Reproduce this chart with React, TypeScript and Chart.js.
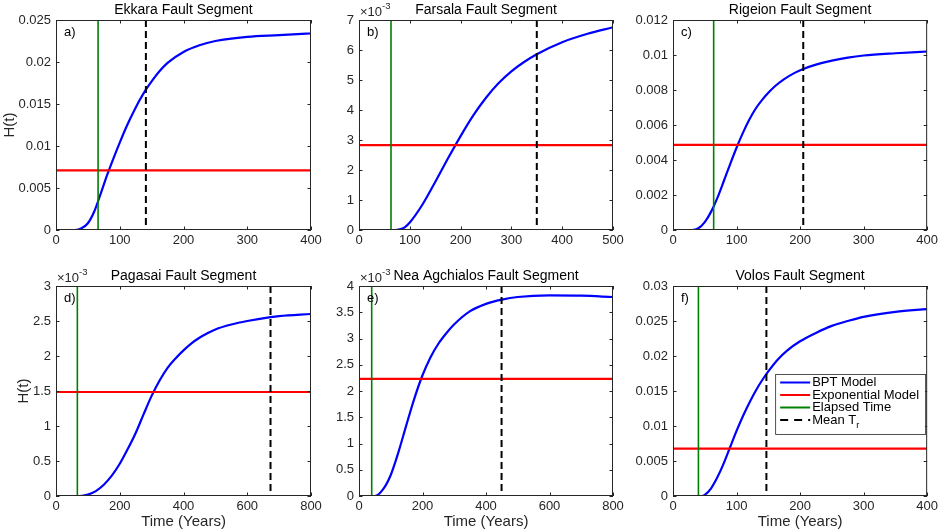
import { useEffect, useRef } from 'react'
import { Chart, registerables } from 'chart.js'

Chart.register(...registerables)
Chart.defaults.font.family = "'Liberation Sans', Arial, Helvetica, sans-serif"
Chart.defaults.color = '#262626'

const INK = '#262626'
const FONT = "'Liberation Sans', Arial, Helvetica, sans-serif"

// panel names and letters
const segmentNames = ['Ekkara', 'Farsala', 'Rigeion', 'Pagasai', 'Nea Agchialos', 'Volos']
const panelTags = ['a)', 'b)', 'c)', 'd)', 'e)', 'f)']

// BPT hazard curves: time (years) / H(t)
const ekkaraYears = [0, 30, 40, 50, 60, 70, 80, 90, 100, 110, 120, 130, 140, 150, 160, 175, 200, 225, 250, 300, 350, 400]
const ekkaraHazard = [0, 0, 0.0002, 0.0008, 0.0022, 0.0043, 0.0065, 0.0085, 0.0104, 0.0122, 0.0138, 0.0153, 0.0166, 0.0177, 0.0187, 0.0199, 0.0212, 0.022, 0.0225, 0.023, 0.0232, 0.0234]

const farsalaYears = [0, 70, 80, 90, 100, 125, 150, 175, 200, 225, 250, 275, 300, 325, 350, 400, 450, 500]
const farsalaHazard = [0, 0, 0.00002, 0.00009, 0.00025, 0.00085, 0.0016, 0.00238, 0.00313, 0.00382, 0.00441, 0.0049, 0.00529, 0.0056, 0.00586, 0.00626, 0.00654, 0.00676]

const rigeionYears = [0, 30, 40, 50, 60, 70, 80, 90, 100, 110, 120, 130, 140, 150, 160, 175, 190, 205, 225, 250, 275, 300, 350, 400]
const rigeionHazard = [0, 0, 0.0001, 0.00045, 0.00105, 0.00185, 0.0028, 0.00377, 0.0047, 0.00555, 0.0063, 0.00693, 0.00742, 0.00784, 0.0082, 0.00862, 0.00895, 0.0092, 0.00945, 0.00968, 0.00985, 0.00997, 0.0101, 0.0102]

const pagasaiYears = [0, 75, 100, 125, 150, 175, 200, 225, 250, 275, 300, 325, 350, 375, 400, 425, 450, 475, 500, 550, 600, 673, 700, 800]
const pagasaiHazard = [0, 0, 0.00002, 0.00007, 0.00016, 0.00029, 0.00046, 0.00067, 0.0009, 0.00117, 0.00143, 0.00165, 0.00183, 0.001965, 0.00208, 0.00218, 0.00226, 0.002325, 0.00238, 0.00245, 0.0025, 0.002555, 0.00257, 0.0026]

const neaYears = [0, 50, 75, 100, 125, 150, 175, 200, 225, 250, 275, 300, 350, 400, 450, 500, 600, 700, 800]
const neaHazard = [0, 0, 0.00012, 0.0004, 0.00085, 0.00137, 0.00187, 0.0023, 0.00264, 0.0029, 0.0031, 0.00327, 0.00352, 0.00366, 0.00374, 0.00379, 0.00382, 0.003815, 0.00379]

const volosYears = [0, 45, 50, 60, 70, 80, 90, 100, 110, 120, 130, 140, 150, 165, 180, 200, 225, 250, 275, 300, 350, 400]
const volosHazard = [0, 0, 0.00015, 0.0011, 0.0027, 0.0047, 0.007, 0.0093, 0.0114, 0.0133, 0.015, 0.0165, 0.0178, 0.0195, 0.0208, 0.0221, 0.0233, 0.0243, 0.025, 0.0256, 0.0263, 0.0267]

const curveYears = [ekkaraYears, farsalaYears, rigeionYears, pagasaiYears, neaYears, volosYears]
const curveHazard = [ekkaraHazard, farsalaHazard, rigeionHazard, pagasaiHazard, neaHazard, volosHazard]

const elapsedYears = [66, 63, 64, 67, 40, 40]
const meanRecurrence = [141, 350, 205, 673, 449, 147]
const exponentialHazard = [0.0071, 0.00283, 0.00486, 0.001486, 0.00223, 0.00676]

// axis ranges
const timeMax = [400, 500, 400, 800, 800, 400]
const timeStep = [100, 100, 100, 200, 200, 100]
const hazardMax = [0.025, 0.007, 0.012, 0.003, 0.004, 0.03]
const hazardStep = [0.005, 0.001, 0.002, 0.0005, 0.0005, 0.005]
const hazardPower = [0, -3, 0, -3, -3, 0]

const legendLabels = ['BPT Model', 'Exponential Model', 'Elapsed Time', 'Mean T']
const seriesColors = ['#0000ff', '#ff0000', '#008000', '#000000']

// [container left, container right, plot left, plot right]
const COLS = [
  [0, 340, 56, 311],
  [320, 640, 359, 613],
  [620, 941, 673, 929],
]
// [container top, container bottom, plot top, plot bottom]
const ROWS = [
  [0, 262, 20, 230],
  [250, 532, 286, 496],
]

function HazardPanel({ idx }: { idx: number }) {
  const canvasRef = useRef<HTMLCanvasElement>(null)
  const col = COLS[idx % 3]
  const row = ROWS[Math.floor(idx / 3)]

  useEffect(() => {
    const tMax = timeMax[idx]
    const hMax = hazardMax[idx]
    const power = hazardPower[idx]
    const scale = Math.pow(10, power)

    const decorations = {
      id: 'matlabAxes',
      afterDraw(chart: any) {
        const { ctx, chartArea, scales } = chart
        const { left, right, top, bottom } = chartArea
        ctx.save()

        // box + inward ticks on all four sides
        ctx.strokeStyle = INK
        ctx.lineWidth = 1
        ctx.beginPath()
        scales.x.ticks.forEach((t: any) => {
          const px = Math.round(scales.x.getPixelForValue(t.value)) + 0.5
          ctx.moveTo(px, bottom)
          ctx.lineTo(px, bottom - 3.5)
          ctx.moveTo(px, top)
          ctx.lineTo(px, top + 3.5)
        })
        scales.y.ticks.forEach((t: any) => {
          const py = Math.round(scales.y.getPixelForValue(t.value)) + 0.5
          ctx.moveTo(left, py)
          ctx.lineTo(left + 3.5, py)
          ctx.moveTo(right, py)
          ctx.lineTo(right - 3.5, py)
        })
        ctx.stroke()
        ctx.strokeRect(left + 0.5, top + 0.5, right - left - 1, bottom - top - 1)

        ctx.fillStyle = INK
        ctx.textBaseline = 'middle'

        // title
        ctx.font = `14px ${FONT}`
        ctx.textAlign = 'center'
        ctx.fillStyle = '#000'
        ctx.fillText(`${segmentNames[idx]} Fault Segment`, (left + right) / 2, top - 10)

        // panel letter
        ctx.font = `13px ${FONT}`
        ctx.textAlign = 'left'
        ctx.fillText(panelTags[idx], left + 8, top + 12)
        ctx.fillStyle = INK

        // exponent marker
        if (power !== 0) {
          ctx.font = `13px ${FONT}`
          ctx.fillText('\u00d710', left + 1, top - 8)
          const w = ctx.measureText('\u00d710').width
          ctx.font = `9.5px ${FONT}`
          ctx.fillText(String(power), left + 1 + w, top - 14)
        }

        // y label (first column only)
        if (idx % 3 === 0) {
          ctx.font = `13px ${FONT}`
          const widest = Math.max(...scales.y.ticks.map((t: any) => ctx.measureText(String(t.label)).width))
          ctx.save()
          ctx.font = `15px ${FONT}`
          ctx.translate(left - 5 - widest - 9, (top + bottom) / 2)
          ctx.rotate(-Math.PI / 2)
          ctx.textAlign = 'center'
          ctx.fillText('H(t)', 0, 0)
          ctx.restore()
        }

        // x label (bottom row only)
        if (idx >= 3) {
          ctx.font = `15px ${FONT}`
          ctx.textAlign = 'center'
          ctx.fillText('Time (Years)', (left + right) / 2, bottom + 26)
        }

        // legend in the last panel
        if (idx === 5) {
          const boxW = 150
          const boxH = 60
          const bx = right - 2 - boxW
          const by = top + 88
          ctx.fillStyle = '#fff'
          ctx.fillRect(bx, by, boxW, boxH)
          ctx.strokeStyle = INK
          ctx.lineWidth = 0.8
          ctx.strokeRect(bx + 0.5, by + 0.5, boxW, boxH)
          legendLabels.forEach((label, i) => {
            const ly = by + 8.5 + i * 12.5
            ctx.strokeStyle = seriesColors[i]
            ctx.lineWidth = 2
            ctx.setLineDash(i === 3 ? [8, 6] : [])
            ctx.beginPath()
            ctx.moveTo(bx + 5, ly)
            ctx.lineTo(bx + 35, ly)
            ctx.stroke()
            ctx.setLineDash([])
            ctx.fillStyle = '#000'
            ctx.font = `13px ${FONT}`
            ctx.textAlign = 'left'
            ctx.fillText(label, bx + 37, ly)
            if (i === 3) {
              const w = ctx.measureText(label).width
              ctx.font = `9px ${FONT}`
              ctx.fillText('r', bx + 37 + w, ly + 6)
            }
          })
        }

        ctx.restore()
      },
    }

    const chart = new Chart(canvasRef.current as HTMLCanvasElement, {
      type: 'line',
      data: {
        datasets: [
          {
            label: 'BPT Model',
            data: curveYears[idx].map((x, i) => ({ x, y: curveHazard[idx][i] })),
            borderColor: seriesColors[0],
            borderWidth: 2.2,
            pointRadius: 0,
            cubicInterpolationMode: 'monotone',
            order: 3,
          },
          {
            label: 'Exponential Model',
            data: [
              { x: 0, y: exponentialHazard[idx] },
              { x: tMax, y: exponentialHazard[idx] },
            ],
            borderColor: seriesColors[1],
            borderWidth: 2.2,
            pointRadius: 0,
            order: 2,
          },
          {
            label: 'Elapsed Time',
            data: [
              { x: elapsedYears[idx], y: hMax },
              { x: elapsedYears[idx], y: 0 },
            ],
            borderColor: seriesColors[2],
            borderWidth: 1.6,
            pointRadius: 0,
            order: 1,
          },
          {
            label: 'Mean Tr',
            data: [
              { x: meanRecurrence[idx], y: hMax },
              { x: meanRecurrence[idx], y: 0 },
            ],
            borderColor: seriesColors[3],
            borderWidth: 2,
            borderDash: [7, 4],
            pointRadius: 0,
            order: 0,
          },
        ],
      },
      options: {
        animation: false,
        responsive: true,
        maintainAspectRatio: false,
        layout: {
          padding: { left: 0, bottom: 0, top: row[2] - row[0], right: col[1] - col[3] },
        },
        plugins: {
          legend: { display: false },
          title: { display: false },
          tooltip: { enabled: false },
        },
        scales: {
          x: {
            type: 'linear',
            min: 0,
            max: tMax,
            grid: { display: false, drawTicks: false, tickLength: 0 },
            border: { display: false },
            ticks: {
              stepSize: timeStep[idx],
              autoSkip: false,
              maxRotation: 0,
              padding: 3,
              color: INK,
              font: { size: 13 },
              callback: (v: any) => String(v),
            },
            afterFit: (s: any) => {
              s.height = row[1] - row[3]
            },
          },
          y: {
            type: 'linear',
            min: 0,
            max: hMax,
            grid: { display: false, drawTicks: false, tickLength: 0 },
            border: { display: false },
            ticks: {
              stepSize: hazardStep[idx],
              autoSkip: false,
              padding: 5,
              color: INK,
              font: { size: 13 },
              callback: (v: any) => String(Number((Number(v) / scale).toFixed(6))),
            },
            afterFit: (s: any) => {
              s.width = col[2] - col[0]
            },
          },
        },
      },
      plugins: [decorations],
    } as any)

    return () => {
      chart.destroy()
    }
  }, [idx])

  return (
    <div
      style={{
        position: 'absolute',
        left: col[0],
        top: row[0],
        width: col[1] - col[0],
        height: row[1] - row[0],
      }}
    >
      <canvas ref={canvasRef} />
    </div>
  )
}

export default function App() {
  return (
    <div style={{ position: 'absolute', left: 0, top: 0, width: 941, height: 532, background: '#fff' }}>
      {segmentNames.map((_, i) => (
        <HazardPanel key={i} idx={i} />
      ))}
    </div>
  )
}
